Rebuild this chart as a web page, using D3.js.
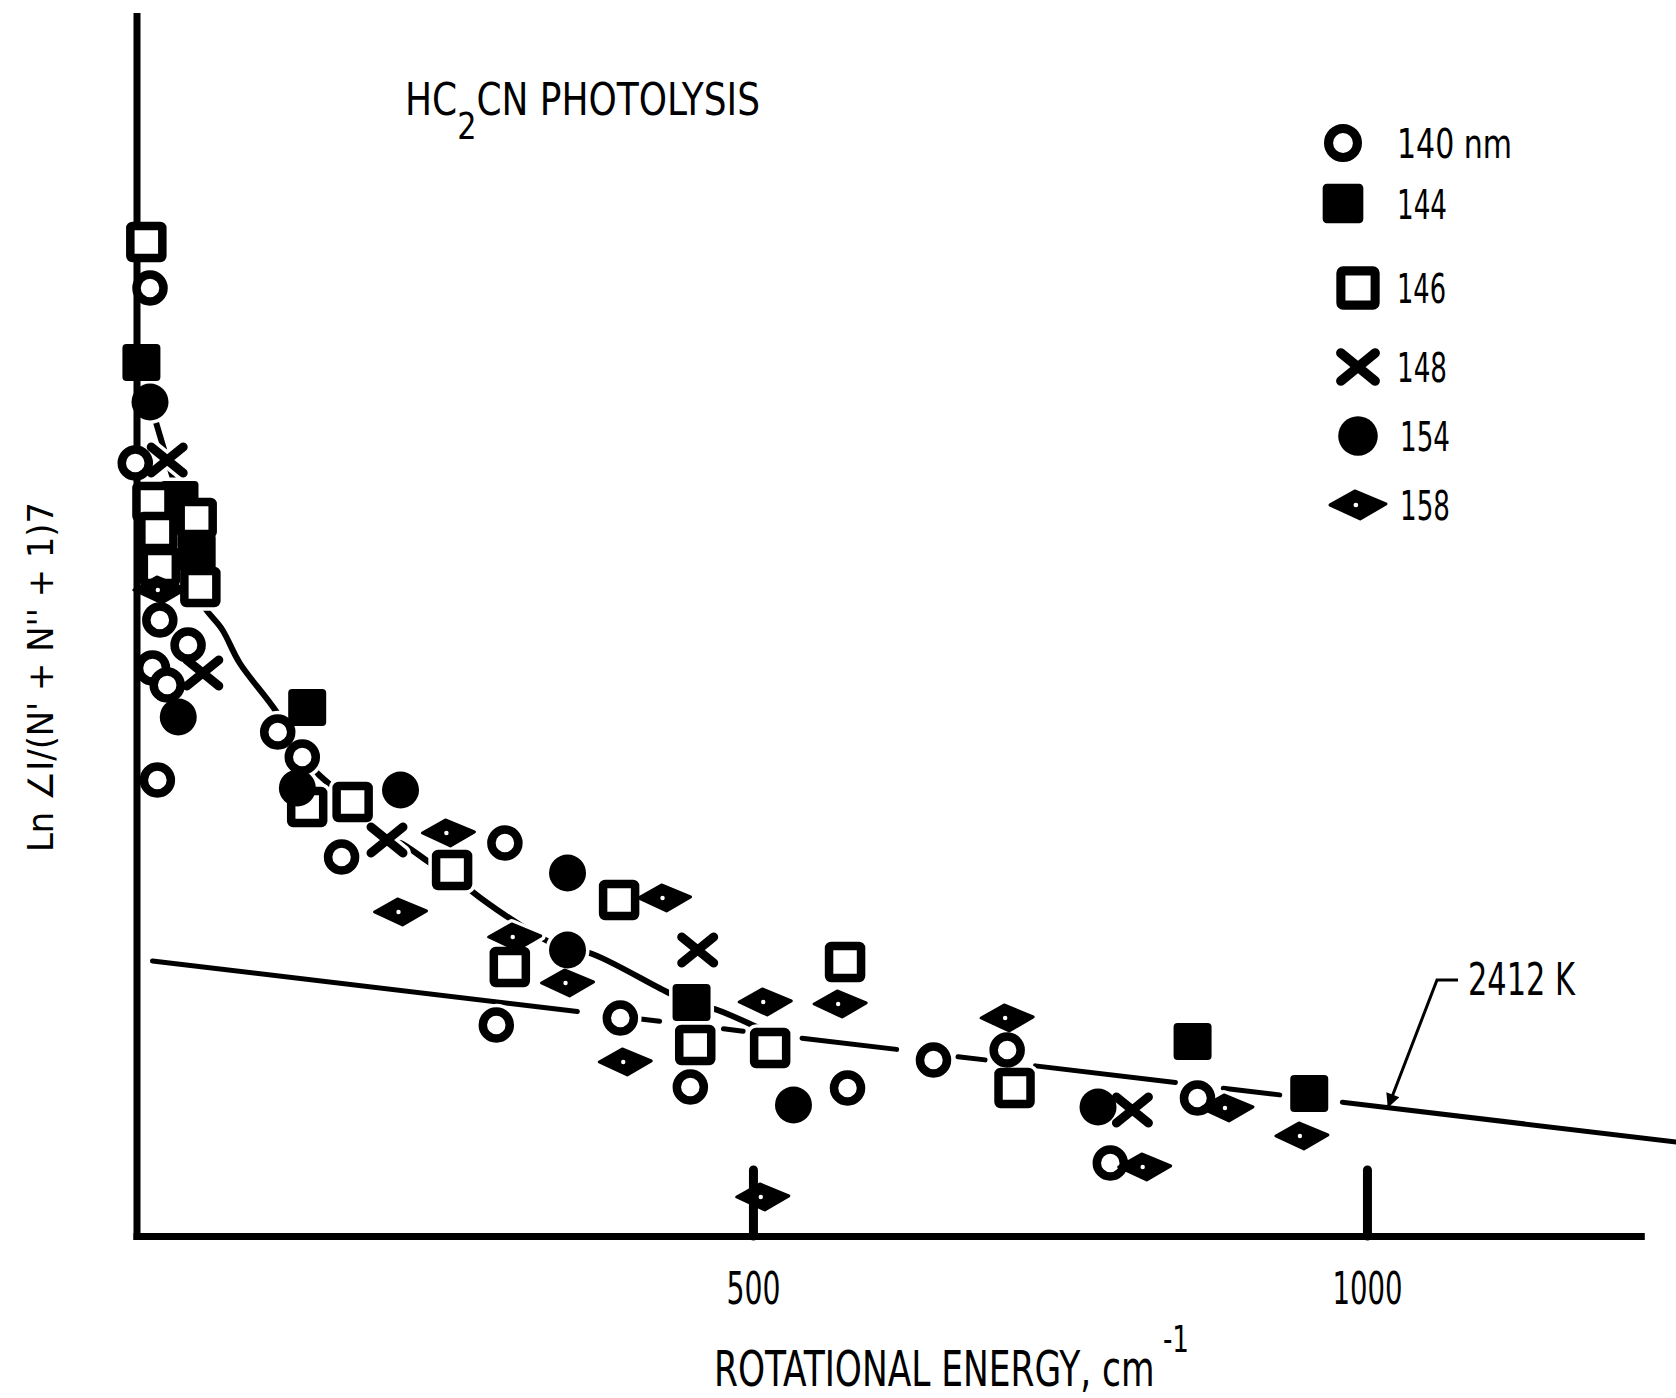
<!DOCTYPE html>
<html>
<head>
<meta charset="utf-8">
<script src="https://cdn.jsdelivr.net/npm/d3@7"></script>
<style>
  body { margin: 0; background: #fff; }
  svg { display: block; }
  text { font-family: "Liberation Sans Narrow", "DejaVu Sans Condensed", "Arial Narrow", sans-serif; fill: #000; }
</style>
</head>
<body>
<div id="chart"></div>
<script>
// legend labels (photolysis wavelength)
const wavelengths = ['140 nm', '144', '146', '148', '154', '158'];

// points: [rotational energy (cm-1), Ln value (arbitrary units, no y ticks)]
const s140 = [[9, 9.48], [-3, 7.73], [17, 6.16], [40, 5.91], [11, 5.68], [23, 5.51], [15, 4.56],
  [113, 5.04], [133, 4.79], [165, 3.79], [298, 3.93], [291, 2.11], [392, 2.18],
  [449, 1.49], [577, 1.48], [647, 1.76], [707, 1.86], [862, 1.38], [791, 0.73]];
const s144 = [[2, 8.73], [33, 7.36], [47, 6.83], [137, 5.28], [450, 2.33], [858, 1.94], [953, 1.42]];
const s146 = [[6, 9.94], [11, 7.34], [47, 7.18], [15, 7.04], [17, 6.69], [50, 6.49], [137, 4.29],
  [174, 4.34], [255, 3.66], [391, 3.36], [302, 2.69], [575, 2.74], [453, 1.91], [514, 1.88], [713, 1.48]];
const s148 = [[23, 7.76], [52, 5.63], [202, 3.96], [455, 2.86], [809, 1.26]];
const s154 = [[9, 8.34], [32, 5.19], [129, 4.48], [213, 4.46], [349, 3.63], [349, 2.86], [533, 1.31], [781, 1.29]];
const s158 = [[17, 6.46], [252, 4.03], [213, 3.24], [428, 3.38], [306, 2.99], [349, 2.53], [396, 1.74],
  [510, 2.34], [571, 2.32], [707, 2.18], [886, 1.28], [947, 1.00], [819, 0.69], [508, 0.39]];

// hand drawn curve through the low energy points
const fitCurve = [[9, 8.34], [23, 7.76], [36, 7.25], [47, 6.8], [50, 6.36], [68, 6.06], [82, 5.73],
  [112, 5.24], [133, 4.79], [145, 4.63], [158, 4.49], [174, 4.34], [202, 3.96], [213, 3.93],
  [243, 3.69], [255, 3.66], [267, 3.49], [321, 3.03], [349, 2.86], [367, 2.83], [430, 2.44],
  [450, 2.33], [471, 2.26], [503, 2.09]];

// 2412 K straight line: end points and the pieces actually inked (energy ranges)
const fit2412 = [[11, 2.75], [1252, 0.94]];
const fit2412Pieces = [[11, 357], [405, 424], [476, 492], [540, 617], [667, 689], [730, 844], [883, 929], [980, 1252]];

const xTicks = [500, 1000];

const width = 1676, height = 1398;

const svg = d3.select('#chart').append('svg')
    .attr('width', width)
    .attr('height', height);

const x = d3.scaleLinear().domain([-2, 1223]).range([136.5, 1640.8]);
const y = d3.scaleLinear().domain([0, 12.2]).range([1236, 16]);

// fitted lines
const fitY = d3.scaleLinear().domain([fit2412[0][0], fit2412[1][0]]).range([fit2412[0][1], fit2412[1][1]]);

svg.append('g').selectAll('line')
    .data(fit2412Pieces)
    .enter().append('line')
    .attr('x1', d => x(d[0]))
    .attr('y1', d => y(fitY(d[0])))
    .attr('x2', d => x(d[1]))
    .attr('y2', d => y(fitY(d[1])))
    .attr('stroke', '#000')
    .attr('stroke-width', 5)
    .attr('stroke-linecap', 'round');

svg.append('path')
    .datum(fitCurve)
    .attr('d', d3.line().x(d => x(d[0])).y(d => y(d[1])).curve(d3.curveCatmullRom.alpha(0.5)))
    .attr('fill', 'none')
    .attr('stroke', '#000')
    .attr('stroke-width', 6)
    .attr('stroke-linejoin', 'round')
    .attr('stroke-linecap', 'round');

// marker shapes
const markerTypes = ['ring', 'block', 'box', 'cross', 'dot', 'lens'];
const seriesList = [s140, s144, s146, s148, s154, s158];

function drawShape(g, type, halo) {
    const ink = halo ? '#fff' : '#000';
    const grow = halo ? 7 : 0;
    if (type === 'ring') {
        g.append('circle').attr('r', 13.5)
            .attr('fill', '#fff').attr('stroke', ink).attr('stroke-width', 8.5 + grow);
    } else if (type === 'block') {
        g.append('rect').attr('x', -19).attr('y', -19).attr('width', 38).attr('height', 37).attr('rx', 4)
            .attr('fill', ink).attr('stroke', ink).attr('stroke-width', grow);
    } else if (type === 'box') {
        g.append('rect').attr('x', -16).attr('y', -16).attr('width', 32).attr('height', 32).attr('rx', 2)
            .attr('fill', '#fff').attr('stroke', ink).attr('stroke-width', 8.5 + grow);
    } else if (type === 'cross') {
        g.append('path').attr('d', 'M-16,-13L16,13M-16,13L16,-13')
            .attr('stroke', ink).attr('stroke-width', 9 + grow).attr('stroke-linecap', 'round');
    } else if (type === 'dot') {
        g.append('circle').attr('r', 18.5)
            .attr('fill', ink).attr('stroke', ink).attr('stroke-width', grow);
    } else if (type === 'lens') {
        g.append('path').attr('d', 'M-26,0L-3,-13L26,-1L2,13Z')
            .attr('fill', ink).attr('stroke', ink).attr('stroke-width', 3 + grow)
            .attr('stroke-linejoin', 'round');
        if (!halo) g.append('circle').attr('r', 2.2).attr('cx', -2).attr('fill', '#fff');
    }
}

// white halos cut the lines around the symbols
const haloLayer = svg.append('g');
seriesList.forEach((pts, i) => {
    haloLayer.selectAll(null)
        .data(pts)
        .enter().append('g')
        .attr('transform', d => `translate(${x(d[0])},${y(d[1])})`)
        .each(function() { drawShape(d3.select(this), markerTypes[i], true); });
});

// axes
const xAxis = svg.append('g')
    .attr('transform', `translate(0,${y(0)})`)
    .call(d3.axisBottom(x).tickValues(xTicks).tickFormat(d3.format('d'))
        .tickSizeInner(-66).tickSizeOuter(0).tickPadding(37));
xAxis.select('.domain').attr('stroke-width', 7).attr('stroke-linecap', 'square');
xAxis.selectAll('.tick line').attr('stroke-width', 9).attr('stroke-linecap', 'round');
xAxis.selectAll('.tick text')
    .attr('font-family', null)
    .attr('font-size', 44)
    .attr('textLength', d => d >= 1000 ? 70 : 54)
    .attr('lengthAdjust', 'spacingAndGlyphs');

const yAxis = svg.append('g')
    .attr('transform', `translate(${x(-2)},0)`)
    .call(d3.axisLeft(y).tickValues([]).tickSizeOuter(0));
yAxis.select('.domain').attr('stroke-width', 7).attr('stroke-linecap', 'square');

// data markers
seriesList.forEach((pts, i) => {
    svg.append('g').selectAll(null)
        .data(pts)
        .enter().append('g')
        .attr('transform', d => `translate(${x(d[0])},${y(d[1])})`)
        .each(function() { drawShape(d3.select(this), markerTypes[i], false); });
});

// legend
const legendX = 1352, legendLabelX = 1397;
const legendY = [143, 204, 288, 367, 436, 505];
const legendLen = [115, 50, 49, 50, 50, 50];
wavelengths.forEach((name, i) => {
    const g = svg.append('g')
        .attr('transform', `translate(${legendX + (i < 2 ? -9 : 6)},${legendY[i]}) scale(1.07)`);
    drawShape(g, markerTypes[i], false);
    svg.append('text')
        .attr('x', legendLabelX + (i > 3 ? 3 : 0))
        .attr('y', legendY[i] + 15)
        .attr('font-size', 41)
        .attr('textLength', legendLen[i])
        .attr('lengthAdjust', 'spacingAndGlyphs')
        .text(name);
});

// title, one text with a subscript
const title = svg.append('text').attr('x', 405).attr('y', 115).attr('font-size', 45)
    .attr('textLength', 355).attr('lengthAdjust', 'spacingAndGlyphs');
title.append('tspan').text('HC');
title.append('tspan').attr('dy', 24).attr('font-size', 38).text('2');
title.append('tspan').attr('dy', -24).text('CN  PHOTOLYSIS');

// axis titles
const xTitle = svg.append('text').attr('x', 714).attr('y', 1386).attr('font-size', 50)
    .attr('textLength', 475).attr('lengthAdjust', 'spacingAndGlyphs');
xTitle.append('tspan').text('ROTATIONAL ENERGY, cm');
xTitle.append('tspan').attr('dy', -34).attr('font-size', 38).text(' -1');

svg.append('text')
    .attr('transform', 'translate(53,677) rotate(-90)')
    .attr('text-anchor', 'middle')
    .attr('font-size', 35)
    .attr('textLength', 350)
    .attr('lengthAdjust', 'spacingAndGlyphs')
    .text("Ln \u2220I/(N' + N'' + 1)7");

// 2412 K annotation with arrow
svg.append('defs').append('marker')
    .attr('id', 'arrow')
    .attr('viewBox', '0 0 10 10')
    .attr('refX', 10).attr('refY', 5)
    .attr('markerUnits', 'userSpaceOnUse')
    .attr('markerWidth', 26).attr('markerHeight', 14)
    .attr('orient', 'auto')
    .append('path').attr('d', 'M0,0L10,5L0,10Z').attr('fill', '#000');

svg.append('path')
    .attr('d', `M1458,980L1437,980L${x(1017)},${y(fitY(1017))}`)
    .attr('fill', 'none')
    .attr('stroke', '#000')
    .attr('stroke-width', 3)
    .attr('marker-end', 'url(#arrow)');

svg.append('text').attr('x', 1468).attr('y', 995).attr('font-size', 44)
    .attr('textLength', 107).attr('lengthAdjust', 'spacingAndGlyphs').text('2412 K');
</script>
</body>
</html>
